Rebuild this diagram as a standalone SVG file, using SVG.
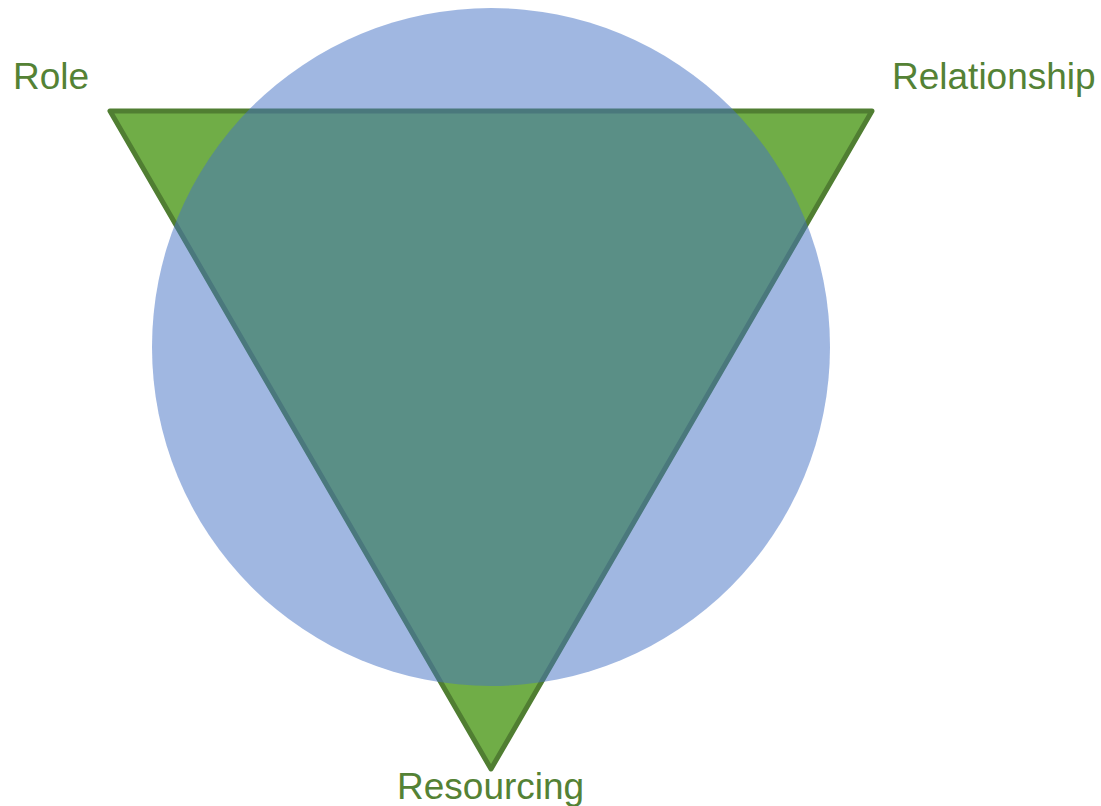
<svg xmlns="http://www.w3.org/2000/svg" width="1101" height="806" viewBox="0 0 1101 806">
<style>
.lbl{font-family:"Liberation Sans",Arial,sans-serif;font-size:37px;fill:#548235}
</style>
<rect width="1101" height="806" fill="#ffffff"/>
<g id="triangle">
<polygon points="110,111 872,111 491,769" fill="#70AD47" stroke="#507E32" stroke-width="5" stroke-linejoin="round"/>
</g>
<g id="circle">
<circle cx="491" cy="347" r="339" fill="#4472C4" fill-opacity="0.51"/>
</g>
<g id="labels">
<text id="role" class="lbl" x="13" y="89">Role</text>
<text id="relationship" class="lbl" x="892" y="89">Relationship</text>
<text id="resourcing" class="lbl" x="397" y="799">Resourcing</text>
</g>
</svg>
